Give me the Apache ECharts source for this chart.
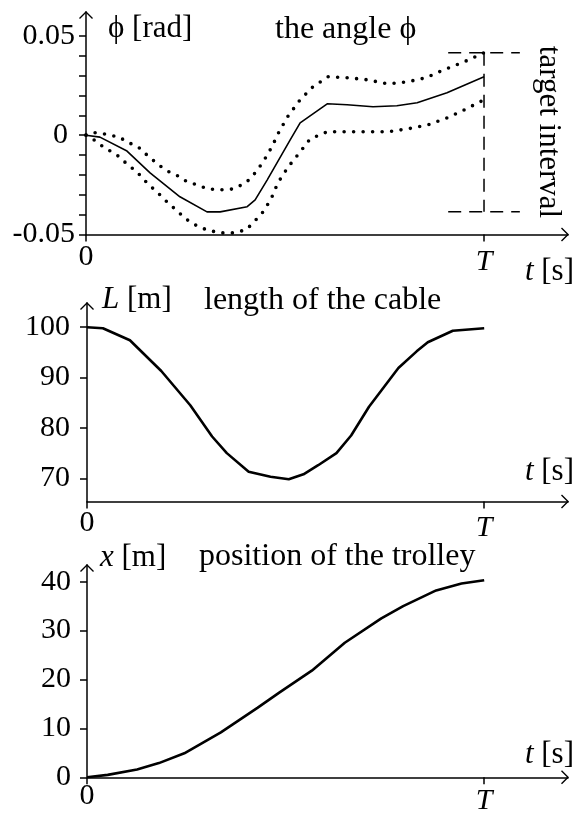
<!DOCTYPE html>
<html>
<head>
<meta charset="utf-8">
<script src="https://cdn.jsdelivr.net/npm/echarts@6/dist/echarts.min.js"></script>
<style>
  html, body { margin: 0; padding: 0; background: #fff; }
  #chart { width: 574px; height: 814px; }
</style>
</head>
<body>
<div id="chart"></div>
<script>
// Time is expressed as a fraction of the final time T (T = 1).
const T = 1;

// Swing angle of the load [rad]: nominal trajectory
const phiTime = [0, 0.035, 0.103, 0.161, 0.236, 0.304, 0.337, 0.405, 0.425, 0.455, 0.513, 0.538, 0.606, 0.656, 0.721, 0.781, 0.832, 0.907, 1.0];
const phiValue = [0, -0.001, -0.008, -0.019, -0.031, -0.0386, -0.0386, -0.036, -0.0326, -0.0226, -0.0024, 0.0062, 0.0158, 0.0153, 0.0143, 0.0148, 0.0163, 0.0213, 0.0294];

// Upper bound of the angle
const phiUpperTime = [0, 0.021, 0.043, 0.065, 0.083, 0.103, 0.131, 0.158, 0.186, 0.209, 0.231, 0.254, 0.279, 0.307, 0.337, 0.369, 0.402, 0.425, 0.445, 0.467, 0.485, 0.508, 0.538, 0.570, 0.608, 0.658, 0.706, 0.759, 0.809, 0.854, 0.899, 0.950, 1.0];
const phiUpperValue = [0, 0.0013, 0.0007, -0.0002, -0.0009, -0.0034, -0.0059, -0.0109, -0.0155, -0.0185, -0.0205, -0.0235, -0.0250, -0.0271, -0.0275, -0.0271, -0.0240, -0.0190, -0.0135, -0.0059, 0.0017, 0.0097, 0.0178, 0.0243, 0.0294, 0.0289, 0.0279, 0.0258, 0.0269, 0.0289, 0.0329, 0.0369, 0.0415];

// Lower bound of the angle
const phiLowerTime = [0, 0.020, 0.040, 0.060, 0.080, 0.103, 0.128, 0.153, 0.186, 0.206, 0.229, 0.251, 0.279, 0.304, 0.337, 0.369, 0.402, 0.422, 0.445, 0.465, 0.482, 0.508, 0.538, 0.563, 0.606, 0.653, 0.706, 0.759, 0.809, 0.859, 0.907, 0.950, 1.0];
const phiLowerValue = [0, -0.0024, -0.0054, -0.0079, -0.0104, -0.0145, -0.0185, -0.0240, -0.0301, -0.0341, -0.0381, -0.0422, -0.0457, -0.0477, -0.0492, -0.0492, -0.0477, -0.0437, -0.0386, -0.0321, -0.0240, -0.0160, -0.0084, -0.0019, 0.0017, 0.0017, 0.0017, 0.0017, 0.0032, 0.0052, 0.0087, 0.0127, 0.0178];

// Admissible final angle and the time span of the marker box
const targetInterval = [-0.0385, 0.0415];
const targetSpan = [0.91, 1.09];

// Cable length [m]
const lengthTime = [0, 0.04, 0.108, 0.187, 0.26, 0.315, 0.352, 0.407, 0.462, 0.508, 0.545, 0.582, 0.628, 0.665, 0.71, 0.784, 0.83, 0.858, 0.921, 1.0];
const lengthValue = [100, 99.8, 97.4, 91.3, 84.5, 78.3, 75.0, 71.3, 70.3, 69.8, 70.8, 72.6, 75.0, 78.5, 84.2, 91.9, 95.2, 97.0, 99.3, 99.8];

// Trolley position [m]
const posTime = [0, 0.052, 0.126, 0.181, 0.245, 0.337, 0.429, 0.484, 0.566, 0.649, 0.741, 0.796, 0.879, 0.943, 1.0];
const posValue = [0, 0.5, 1.6, 2.9, 4.9, 9.2, 14.2, 17.3, 21.8, 27.5, 32.5, 35.0, 38.2, 39.6, 40.3];

// Tick values
const phiTicks = [-0.05, -0.04, -0.03, -0.02, -0.01, 0, 0.01, 0.02, 0.03, 0.04, 0.05];
const phiLabels = [-0.05, 0, 0.05];
const lengthTicks = [70, 80, 90, 100];
const posTicks = [0, 10, 20, 30, 40];
const timeTicks = [0, T];

const zip = (xs, ys) => xs.map((x, i) => [x, ys[i]]);

const FONT = "'Liberation Serif', 'Times New Roman', serif";
const FS = 30;      // tick labels
const FS_NAME = 31; // axis names
const FS_TITLE = 32;
const chevron = 'path://M0,10 L10,0 L20,10 L18.6,11.4 L10,2.8 L1.4,11.4 Z';

function timeAxis(gridIndex, labelMargin, nameAlign, namePadding) {
  return {
    type: 'value', gridIndex, min: 0, max: 1.211,
    axisLine: { onZero: false, lineStyle: { color: '#000', width: 1.5 },
      symbol: ['none', chevron], symbolSize: [14, 9], symbolOffset: [0, -3] },
    axisTick: { show: true, customValues: timeTicks, length: 7, lineStyle: { color: '#000', width: 1.5 } },
    axisLabel: {
      customValues: timeTicks, margin: labelMargin, color: '#000', fontFamily: FONT, fontSize: FS,
      formatter: v => (v === 0 ? '0' : '{it|T}'),
      rich: { it: { fontStyle: 'italic', fontFamily: FONT, fontSize: FS, color: '#000', padding: [5, 0, 0, 0] } }
    },
    splitLine: { show: false },
    name: '{it|t} [s]', nameLocation: 'end', nameGap: 6,
    nameTextStyle: {
      color: '#000', fontFamily: FONT, fontSize: FS_NAME, align: 'right', verticalAlign: nameAlign, padding: namePadding,
      rich: { it: { fontStyle: 'italic', fontFamily: FONT, fontSize: FS_NAME, color: '#000' } }
    }
  };
}

function valueAxis(gridIndex, min, max, ticks, labels, formatter, margin, name, nameGap, namePadLeft) {
  return {
    type: 'value', gridIndex, min, max,
    axisLine: { onZero: false, lineStyle: { color: '#000', width: 1.5 },
      symbol: ['none', chevron], symbolSize: [14, 9], symbolOffset: [0, -3] },
    axisTick: { show: true, customValues: ticks, length: 7, lineStyle: { color: '#000', width: 1.5 } },
    axisLabel: {
      customValues: labels, margin, color: '#000', fontFamily: FONT, fontSize: FS, formatter,
      rich: { z: { fontFamily: FONT, fontSize: FS, color: '#000', padding: [0, 7, 0, 0] } }
    },
    splitLine: { show: false },
    name, nameLocation: 'end', nameGap,
    nameTextStyle: {
      color: '#000', fontFamily: FONT, fontSize: FS_NAME, align: 'left', verticalAlign: 'middle',
      padding: [0, 0, 0, namePadLeft],
      rich: { it: { fontStyle: 'italic', fontFamily: FONT, fontSize: FS_NAME, color: '#000' } }
    }
  };
}

const blackLine = (w, extra) => Object.assign({ color: '#000', width: w }, extra || {});
const dotted = { type: [0, 9.5], cap: 'round' };
const titleStyle = { fontFamily: FONT, fontSize: FS_TITLE, fontWeight: 'normal', color: '#000' };

const chart = echarts.init(document.getElementById('chart'), null, { renderer: 'canvas' });
chart.setOption({
  animation: false,
  backgroundColor: '#fff',
  title: [
    { text: 'the angle ϕ', left: 275, top: 14, padding: 0, textStyle: titleStyle },
    { text: 'length of the cable', left: 204, top: 285, padding: 0, textStyle: titleStyle },
    { text: 'position of the trolley', left: 199, top: 541, padding: 0, textStyle: titleStyle }
  ],
  grid: [
    { left: 86, top: 12, width: 482, height: 222.5, containLabel: false, outerBoundsMode: 'none' },
    { left: 87, top: 303, width: 481, height: 198.5, containLabel: false, outerBoundsMode: 'none' },
    { left: 87, top: 565, width: 481, height: 212.3, containLabel: false, outerBoundsMode: 'none' }
  ],
  xAxis: [
    timeAxis(0, 8, 'top', [22, 0, 0, 0]),
    timeAxis(1, 7, 'bottom', [0, 0, 14, 0]),
    timeAxis(2, 4, 'bottom', [0, 0, 7, 0])
  ],
  yAxis: [
    valueAxis(0, -0.05, 0.062, phiTicks, phiLabels, v => (v === 0 ? '{z|0}' : v.toFixed(2)), 11, 'ϕ [rad]', -17, 22),
    valueAxis(1, 65.4, 104.8, lengthTicks, lengthTicks, v => String(v), 17, '{it|L} [m]', 3, 15),
    valueAxis(2, 0, 43.4, posTicks, posTicks, v => String(v), 16, '{it|x} [m]', 7, 13)
  ],
  graphic: [
    { type: 'text', x: 548, y: 132, rotation: -Math.PI / 2,
      style: { text: 'target interval', font: FS_NAME + 'px ' + FONT, fill: '#000', align: 'center', verticalAlign: 'middle' } }
  ],
  series: [
    { type: 'line', xAxisIndex: 0, yAxisIndex: 0, data: zip(phiTime, phiValue), showSymbol: false, lineStyle: blackLine(1.6) },
    { type: 'line', xAxisIndex: 0, yAxisIndex: 0, data: zip(phiUpperTime, phiUpperValue), showSymbol: false, lineStyle: blackLine(3.6, dotted) },
    { type: 'line', xAxisIndex: 0, yAxisIndex: 0, data: zip(phiLowerTime, phiLowerValue), showSymbol: false, lineStyle: blackLine(3.6, dotted) },
    // target interval box: upper edge, lower edge, and the vertical line at T
    { type: 'line', xAxisIndex: 0, yAxisIndex: 0, data: [[targetSpan[0], targetInterval[1]], [targetSpan[1], targetInterval[1]]], showSymbol: false, lineStyle: blackLine(1.5, { type: [13, 8] }) },
    { type: 'line', xAxisIndex: 0, yAxisIndex: 0, data: [[targetSpan[0], targetInterval[0]], [targetSpan[1], targetInterval[0]]], showSymbol: false, lineStyle: blackLine(1.5, { type: [13, 8] }) },
    { type: 'line', xAxisIndex: 0, yAxisIndex: 0, data: [[T, targetInterval[1]], [T, targetInterval[0]]], showSymbol: false, lineStyle: blackLine(1.5, { type: [13, 8] }) },
    { type: 'line', xAxisIndex: 1, yAxisIndex: 1, data: zip(lengthTime, lengthValue), showSymbol: false, lineStyle: blackLine(2.6) },
    { type: 'line', xAxisIndex: 2, yAxisIndex: 2, data: zip(posTime, posValue), showSymbol: false, lineStyle: blackLine(2.6) }
  ]
});
</script>
</body>
</html>
